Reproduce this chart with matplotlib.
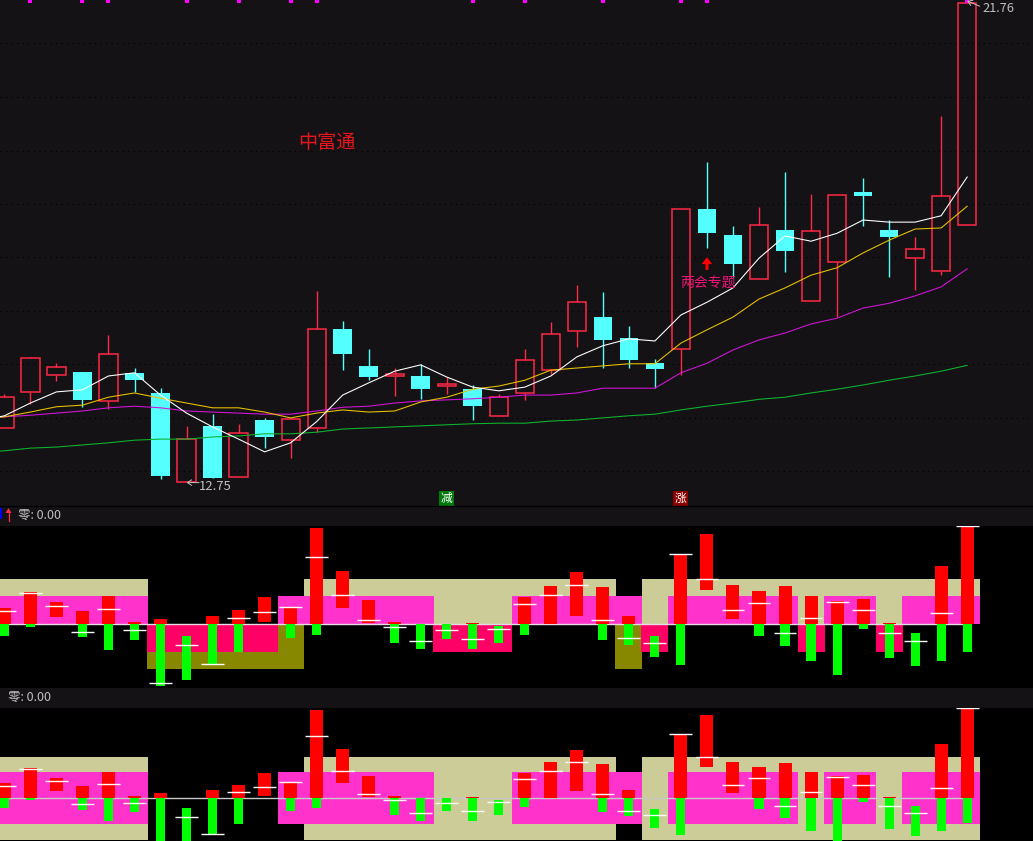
import numpy as np
import matplotlib
matplotlib.use('Agg')
import matplotlib.pyplot as plt
from matplotlib.patches import Rectangle

plt.rcParams['font.family'] = ['Noto Sans CJK SC', 'DejaVu Sans']

# candles, prices
opens = [13.74,14.43,14.74,14.81,14.26,14.79,14.41,12.74,13.79,12.83,13.90,13.53,13.74,15.62,14.92,14.73,14.73,14.54,14.48,13.98,
         14.40,14.85,15.58,15.84,15.45,14.97,15.24,17.88,17.39,16.56,17.48,16.15,16.87,18.20,17.48,16.96,16.71,17.58]
closes = [14.33,15.06,14.89,14.28,15.14,14.65,12.84,13.55,12.81,13.65,13.58,13.91,15.61,15.14,14.71,14.77,14.48,14.58,14.16,14.33,
          15.04,15.52,16.12,15.41,15.03,14.86,17.87,17.42,16.84,17.57,17.09,17.46,18.14,18.12,17.35,17.12,18.12,21.76]
highs = [14.39,15.09,14.97,14.81,15.50,14.88,14.50,13.79,14.01,13.83,13.94,13.91,16.33,15.77,15.24,14.88,14.96,14.71,14.56,14.39,
         15.24,15.75,16.45,16.31,15.67,15.05,17.87,18.76,17.56,17.92,18.58,18.16,18.14,18.46,17.67,17.35,19.63,21.76]
lows = [13.74,14.21,14.64,14.15,14.11,14.43,12.79,12.74,12.81,12.83,13.37,13.18,13.68,14.84,14.65,14.35,14.30,14.39,13.90,13.98,
        14.28,14.77,15.28,14.88,14.88,14.50,14.75,17.14,16.60,16.56,16.69,16.15,15.84,17.56,16.60,16.35,16.63,17.58]

# moving averages start one day before the first whole candle, off the left edge
ma_white = [13.88,13.98,14.22,14.43,14.47,14.73,14.79,14.37,14.03,13.77,13.54,13.30,13.47,13.87,14.37,14.60,14.82,14.94,14.71,14.52,14.45,
            14.52,14.73,15.09,15.30,15.43,15.39,15.88,16.12,16.39,16.95,17.37,17.27,17.42,17.67,17.63,17.63,17.75,18.48]
ma_yellow = [13.92,13.96,14.05,14.15,14.18,14.33,14.41,14.31,14.22,14.13,14.13,14.05,13.94,14.03,14.09,14.05,14.07,14.24,14.33,14.48,14.54,
             14.65,14.84,14.88,14.92,14.96,14.96,15.35,15.60,15.84,16.18,16.39,16.63,16.77,17.05,17.29,17.50,17.52,17.93]
ma_magenta = [13.94,13.96,13.99,14.03,14.07,14.13,14.16,14.13,14.07,14.05,14.03,14.01,14.01,14.07,14.14,14.16,14.22,14.26,14.28,14.30,14.33,
              14.37,14.37,14.41,14.50,14.50,14.50,14.79,14.97,15.22,15.41,15.54,15.71,15.82,16.01,16.10,16.24,16.41,16.75]
ma_green = [13.29,13.32,13.37,13.39,13.43,13.47,13.52,13.54,13.54,13.58,13.60,13.64,13.64,13.67,13.73,13.75,13.77,13.79,13.81,13.83,13.84,
            13.84,13.88,13.90,13.94,13.98,14.01,14.09,14.16,14.22,14.29,14.33,14.41,14.48,14.56,14.65,14.73,14.82,14.93]

grid_prices = [21.0,19.99,18.98,17.98,16.97,15.96,14.95,13.94,12.94]
top_marks = [1,3,4,7,9,11,12,18,20,23,26,27,37]

# which days carry which background band
tan_days = list(range(0,6)) + list(range(12,24)) + list(range(25,38))
magenta_days = list(range(0,6)) + list(range(11,17)) + list(range(20,25)) + list(range(26,31)) + [32,33,35,36,37]
rose_days = [6,7,8,9,10,17,18,19,25,31,34]
olive_days = [6,7,8,9,10,11,24]

# first indicator panel
p1_red_top = [29.2,57.7,39.9,23.8,50.6,4.2,9.5,0,14.9,25.6,48.8,29.2,172,95.2,43.4,4.2,0,0,2.4,0,
              48.8,68.4,93.4,66.6,14.9,0,125,161.2,70.2,59.5,68.4,50.6,41.7,45.2,2.4,0,104.1,173.7]
p1_red_bot = [0,0,13.1,0,0,0,0,0,0,0,4.2,0,0,29.2,2.4,0,0,0,0,0,
              0,0,14.9,0,0,0,0,61.3,9.5,0,0,0,0,0,0,0,0,0]
p1_green_top = [0,0,0,0,0,0,0,-20.8,0,0,0,0,0,0,0,0,0,0,0,-3,
                0,0,0,0,0,-20.8,0,0,0,0,0,0,0,0,0,-15.5,0,0]
p1_green_bot = [-20.8,-4.8,0,-22.6,-45.8,-28,-110,-99.4,-70.8,-49.4,0,-24.4,-19,0,0,-33.3,-44,-26.2,-44,-33.3,
                -19,0,0,-28,-36.9,-58.3,-72.6,0,0,-20.8,-38.7,-65.5,-90.4,-8.3,-60.1,-74.4,-65.5,-49.4]
p1_white = [23.2,55.3,32.1,-14.3,26.8,-10.7,-105.3,-37.5,-71.4,10.7,21.4,30.3,119.6,51.8,7.1,-5.4,-30.3,-10.7,-26.8,-8.9,
            35.7,51.8,69.6,7.1,-25,-33.9,125,80.3,25,37.5,-16.1,10.7,39.3,25,-16.1,-30.3,19.6,174.9]

# second indicator panel
p2_red_top = [29.5,58.3,39.1,23.7,50.6,4.5,10.3,0,16,25.6,48.7,30.8,169.9,94.9,42.9,4.5,0,0,2.6,0,
              48.7,69.9,92.9,66,16,0,121.8,160.3,69.9,60.3,67.9,50.6,42.9,44.9,2.6,0,104.5,171.8]
p2_red_bot = [0,0,14.1,0,0,0,0,0,0,0,4.5,0,0,29.5,2.6,0,0,0,0,0,
              0,0,14.1,0,0,0,0,60.3,10.3,0,0,0,0,0,0,0,0,0]
p2_green_top = [0,0,0,0,0,0,0,-18.6,0,0,0,0,0,0,0,0,0,0,0,-3.2,
                0,0,0,0,0,-20.5,0,0,0,0,0,0,0,0,0,-14.7,0,0]
p2_green_bot = [-18.6,-3.2,0,-22.4,-43.6,-26.3,-110,-100,-68.6,-49.4,0,-24.4,-18.6,0,0,-32,-43.6,-24.4,-43.6,-32,
                -16.7,0,0,-26.3,-34,-57,-70.5,0,0,-20.5,-37.8,-62.8,-90,-7,-59,-72.4,-62.8,-47.4]
p2_white = [23.1,55.8,32.7,-11.5,26.9,-9.6,-105,-36.5,-69.2,11.5,21.2,30.8,119.2,51.9,7.7,-3.8,-28.8,-9.6,-25,-7.7,
            36.5,51.9,69.2,7.7,-25,-32.7,123,78.8,25,38.5,-15.4,11.5,40.4,25,-15.4,-28.8,19.2,173.1]

MAGENTA_LEVEL = 50
TAN_LEVEL = 80

BG = '#141214'
UP = '#FF2846'
DOWN = '#54FFFF'
GREY = '#C0C0C0'
XLIM = (-0.169, 39.53)
W, H = 1033, 841


def panel_axes(fig, top, bottom, color):
    ax = fig.add_axes([0, 1 - bottom / H, 1, (bottom - top) / H])
    ax.set_facecolor(color)
    ax.set_xlim(*XLIM)
    ax.set_xticks([])
    ax.set_yticks([])
    for s in ax.spines.values():
        s.set_visible(False)
    return ax


def draw_indicator(ax, red_top, red_bot, green_top, green_bot, white, mirror, line_color):
    ax.bar(tan_days, TAN_LEVEL, width=1, color='#CCCC99', linewidth=0)
    ax.bar(magenta_days, MAGENTA_LEVEL, width=1, color='#FF33CC', linewidth=0)
    if mirror:
        ax.bar(tan_days, -TAN_LEVEL, width=1, color='#CCCC99', linewidth=0)
        ax.bar(magenta_days, -MAGENTA_LEVEL, width=1, color='#FF33CC', linewidth=0)
    else:
        ax.bar(olive_days, -TAN_LEVEL, width=1.04, color='#888800', linewidth=0)
        ax.bar(rose_days, -MAGENTA_LEVEL, width=1.04, color='#FF0066', linewidth=0)
    x = np.arange(len(white))
    ax.hlines(0, XLIM[0], x[-1], color=line_color, lw=1.0, zorder=2)
    ax.bar(x, np.array(red_top) - np.array(red_bot), bottom=red_bot, width=0.5, color='#FF0000', linewidth=0, zorder=3)
    ax.bar(x, np.array(green_bot) - np.array(green_top), bottom=green_top, width=0.35, color='#00FF00', linewidth=0, zorder=3)
    ax.hlines(white, x - 0.44, x + 0.44, color='white', lw=1.0, zorder=4)


fig = plt.figure(figsize=(W / 100, H / 100), dpi=100, facecolor=BG)

# main candle panel
ax = panel_axes(fig, 0, 505, BG)
ax.set_ylim(12.298, 21.817)
ax.hlines(grid_prices, XLIM[0], XLIM[1], color='black', lw=0.8, linestyles=(0, (1, 4)), zorder=1)

for i in range(len(opens)):
    o, c, hi, lo = opens[i], closes[i], highs[i], lows[i]
    top, bot = max(o, c), min(o, c)
    if c >= o:
        ax.vlines(i, top, hi, color=UP, lw=1.0, zorder=2)
        ax.vlines(i, lo, bot, color=UP, lw=1.0, zorder=2)
        ax.add_patch(Rectangle((i - 0.35, bot), 0.70, top - bot, facecolor='none', edgecolor=UP, lw=1.1, zorder=3))
    else:
        ax.vlines(i, lo, hi, color=DOWN, lw=1.0, zorder=2)
        ax.add_patch(Rectangle((i - 0.36, bot), 0.72, top - bot, facecolor=DOWN, edgecolor='none', zorder=3))

ma_days = np.arange(-1, len(opens))
ax.plot(ma_days, ma_green, color='#0DB32D', lw=0.78, zorder=4)
ax.plot(ma_days, ma_magenta, color='#D014D8', lw=0.78, zorder=4)
ax.plot(ma_days, ma_yellow, color='#E8C000', lw=0.78, zorder=5)
ax.plot(ma_days, ma_white, color='white', lw=0.78, zorder=6)
ax.plot(top_marks, [21.79] * len(top_marks), 's', color='#FF00FF', ms=2.2, mew=0, zorder=7)

ax.text(982, H - 8, '21.76', transform=None, color=GREY, fontsize=9.2, va='center', ha='left', zorder=8)
ax.annotate('', xy=(37, 21.80), xytext=(37.48, 21.70),
            arrowprops=dict(arrowstyle='->,head_length=0.3,head_width=0.2', color=GREY, lw=0.7, shrinkA=0, shrinkB=0), zorder=8)
ax.text(199, H - 486, '12.75', transform=None, color=GREY, fontsize=9.4, va='center', ha='left', zorder=8)
ax.annotate('', xy=(7, 12.72), xytext=(7.48, 12.72),
            arrowprops=dict(arrowstyle='->,head_length=0.3,head_width=0.2', color=GREY, lw=0.7, shrinkA=0, shrinkB=0), zorder=8)

ax.text(327, H - 143, '中富通', transform=None, color='#E8141E', fontsize=13.8, va='center', ha='center', zorder=8)
ax.text(707.5, H - 283, '两会专题', transform=None, color='#F01478', fontsize=10, va='center', ha='center', zorder=8)
ax.annotate('', xy=(27, 16.97), xytext=(27, 16.73),
            arrowprops=dict(width=2.2, headwidth=7.5, headlength=5, color='#FF0000', shrink=0, lw=0), zorder=8)

for label, x_pos, box in (('减', 446.5, '#007A0A'), ('涨', 680.5, '#8B0000')):
    ax.text(x_pos, H - 498.5, label, transform=None, color='white', fontsize=8.5, va='center', ha='center', zorder=9,
            bbox=dict(boxstyle='square,pad=0.12', facecolor=box, edgecolor='none'))

# indicator panels
ax1 = panel_axes(fig, 526, 688, 'black')
ax1.set_ylim(-113.75, 175.5)
draw_indicator(ax1, p1_red_top, p1_red_bot, p1_green_top, p1_green_bot, p1_white, False, '#E6DCE6')

ax2 = panel_axes(fig, 708, 841, 'black')
ax2.set_ylim(-82.1, 173.7)
draw_indicator(ax2, p2_red_top, p2_red_bot, p2_green_top, p2_green_bot, p2_white, True, '#C8C8C8')

# header strips
fig.add_artist(plt.Line2D([0, 1], [1 - 505.5 / H] * 2, color='black', lw=1.0))
fig.add_artist(plt.Line2D([0.0005, 0.0005], [1 - 518 / H, 1 - 509 / H], color='#0000FF', lw=1.4))
fig.add_artist(plt.Line2D([8.5 / W, 8.5 / W], [1 - 521 / H, 1 - 512 / H], color=UP, lw=0.9))
fig.add_artist(plt.Polygon([[8.5 / W, 1 - 508 / H], [5.5 / W, 1 - 513 / H], [11.5 / W, 1 - 513 / H]],
                           closed=True, color=UP, lw=0, transform=fig.transFigure))
fig.text(18 / W, 1 - 515 / H, '零: 0.00', color=GREY, fontsize=9, va='center', ha='left')
fig.text(8 / W, 1 - 697 / H, '零: 0.00', color=GREY, fontsize=9, va='center', ha='left')

fig.savefig('out.png', dpi=100, facecolor=fig.get_facecolor())
